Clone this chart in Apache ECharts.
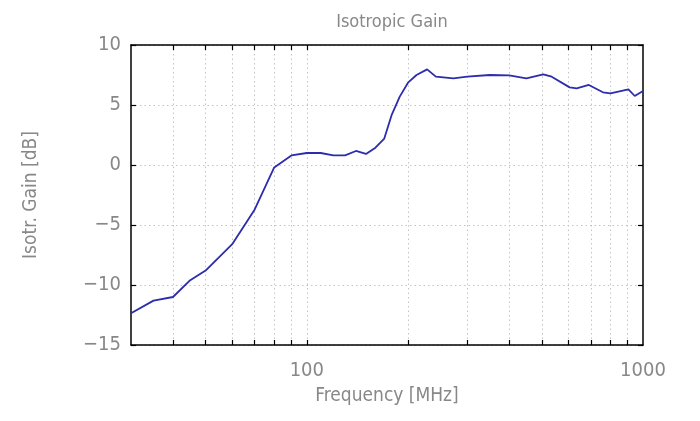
<!DOCTYPE html>
<html><head><meta charset="utf-8">
<script src="https://cdn.jsdelivr.net/npm/echarts@6/dist/echarts.min.js"></script>
<style>html,body{margin:0;padding:0;background:#fff}#c{width:700px;height:421px}</style>
</head><body><div id="c"></div>
<script>
const frequencies = [30,35,40,45,50,60,70,80,90,100,110,120,130,140,150,160,170,179,189,200,212,228,242,273,300,350,400,450,505,535,605,635,690,760,800,905,945,1000];
const gains = [-12.35,-11.3,-11.0,-9.6,-8.8,-6.6,-3.7,-0.2,0.8,1.0,1.0,0.8,0.8,1.17,0.92,1.44,2.2,4.2,5.7,6.86,7.5,7.97,7.36,7.22,7.36,7.5,7.47,7.22,7.56,7.36,6.47,6.39,6.67,6.06,5.97,6.3,5.75,6.17];
const xGridValues = [40,50,60,70,80,90,100,200,300,400,500,600,700,800,900];
const xLabelValues = [100,1000];
const yMin = -15, yMax = 10, yStep = 5;

const FONT = '"Liberation Sans Narrow", "DejaVu Sans Condensed", sans-serif';
const GRAY = '#888888';
const chart = echarts.init(document.getElementById('c'));
const gridLine = {show:true, lineStyle:{type:[1.5,3], color:'#c4c4c4', width:1}};
const frame = {show:true, onZero:false, lineStyle:{color:'#000', width:1.5}};
function fmtY(v){ return String(v).replace('-', '\u2212'); }
chart.setOption({
  backgroundColor:'#fff',
  animation:false,
  title:{text:'Isotropic Gain', left:387, top:8, textAlign:'center',
    textStyle:{fontFamily:FONT, fontSize:18, fontWeight:'normal', color:GRAY}},
  grid:{left:131, right:57, top:45, bottom:76},
  xAxis:[
    {type:'log', logBase:10, min:30, max:1000, position:'bottom',
     axisLine:frame,
     axisTick:{show:true, inside:true, length:5, customValues:xGridValues, lineStyle:{color:'#000', width:1.2}},
     axisLabel:{customValues:xLabelValues, margin:16, fontFamily:FONT, fontSize:20, color:GRAY,
       formatter:v=>String(v)},
     splitLine:gridLine,
     name:'Frequency [MHz]', nameLocation:'middle', nameGap:42,
     nameTextStyle:{fontFamily:FONT, fontSize:19, color:GRAY}},
    {type:'log', logBase:10, min:30, max:1000, position:'top',
     axisLine:frame,
     axisTick:{show:true, inside:true, length:5, customValues:xGridValues, lineStyle:{color:'#000', width:1.2}},
     axisLabel:{show:false}, splitLine:{show:false}}
  ],
  yAxis:[
    {type:'value', min:yMin, max:yMax, interval:yStep, position:'left',
     axisLine:frame,
     axisTick:{show:true, inside:true, length:5, lineStyle:{color:'#000', width:1.2}},
     axisLabel:{margin:10, fontFamily:FONT, fontSize:20, color:GRAY, formatter:fmtY},
     splitLine:gridLine,
     name:'Isotr. Gain [dB]', nameLocation:'middle', nameGap:90,
     nameTextStyle:{fontFamily:FONT, fontSize:19, color:GRAY}},
    {type:'value', min:yMin, max:yMax, interval:yStep, position:'right',
     axisLine:frame,
     axisTick:{show:true, inside:true, length:5, lineStyle:{color:'#000', width:1.2}},
     axisLabel:{show:false}, splitLine:{show:false}}
  ],
  series:[{type:'line', xAxisIndex:0, yAxisIndex:0, showSymbol:false,
    lineStyle:{color:'#2c2cae', width:1.8},
    data:frequencies.map((f,i)=>[f,gains[i]])}]
});
</script></body></html>
